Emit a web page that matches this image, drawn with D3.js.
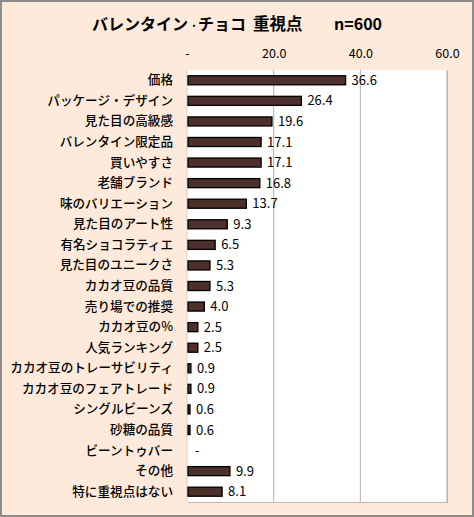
<!DOCTYPE html>
<html>
<head>
<meta charset="utf-8">
<title>バレンタイン・チョコ 重視点</title>
<script src="https://d3js.org/d3.v7.min.js"></script>
<style>
  body { margin: 0; background: #fff; }
  text { font-family: "Noto Sans CJK JP", "Noto Sans", sans-serif; fill: #000; }
</style>
</head>
<body>
<svg id="mainsvg" width="474" height="517"></svg>
<script>
// ---------- data ----------
const categories = [
  "価格", "パッケージ・デザイン", "見た目の高級感", "バレンタイン限定品", "買いやすさ",
  "老舗ブランド", "味のバリエーション", "見た目のアート性", "有名ショコラティエ", "見た目のユニークさ",
  "カカオ豆の品質", "売り場での推奨", "カカオ豆の%", "人気ランキング", "カカオ豆のトレーサビリティ",
  "カカオ豆のフェアトレード", "シングルビーンズ", "砂糖の品質", "ビーントゥバー", "その他", "特に重視点はない"
];
const values = [36.6, 26.4, 19.6, 17.1, 17.1, 16.8, 13.7, 9.3, 6.5, 5.3, 5.3, 4.0, 2.5, 2.5, 0.9, 0.9, 0.6, 0.6, 0, 9.9, 8.1];
const xTicks = [0, 20, 40, 60];
const titleParts = ["バレンタイン", "・", "チョコ", "重視点", "n=600"];

// ---------- canvas ----------
const svg = d3.select("#mainsvg");
const width = +svg.attr("width");
const height = +svg.attr("height");
const plot = {left: 187, right: 447, top: 70, bottom: 502};

// chart background + border
svg.append("rect")
   .attr("x", 1).attr("y", 1)
   .attr("width", width - 2).attr("height", height - 2)
   .attr("fill", "#fdeada")
   .attr("stroke", "#8c8c8c")
   .attr("stroke-width", 2);

// title (pieces placed like the original's spacing; the dot is narrower there)
const titleX = [92, 194, 198, 253, 334];
const titleSize = [16, 9, 16, 16.5, 16];
svg.append("g").selectAll("text").data(titleParts).join("text")
   .attr("x", (d, i) => titleX[i])
   .attr("y", (d, i) => i === 1 ? 28.5 : 30)
   .attr("text-anchor", (d, i) => i === 1 ? "middle" : "start")
   .attr("font-size", (d, i) => titleSize[i])
   .attr("font-weight", "bold")
   .attr("font-family", (d, i) => i === 4 ? "'Open Sans', sans-serif" : null)
   .text(d => d);

// scales
const xScale = d3.scaleLinear().domain([0, 60]).range([plot.left, plot.right]);
const yScale = d3.scaleBand().domain(categories)
   .range([plot.top, plot.bottom])
   .paddingInner(0.56).paddingOuter(0.28);

// plot area with light shadow
svg.append("rect")
   .attr("x", plot.left + 1).attr("y", plot.top + 1)
   .attr("width", plot.right - plot.left).attr("height", plot.bottom - plot.top)
   .attr("fill", "#bfb6ae");
svg.append("rect")
   .attr("x", plot.left).attr("y", plot.top)
   .attr("width", plot.right - plot.left).attr("height", plot.bottom - plot.top)
   .attr("fill", "#fff");

// gridlines
svg.append("g").selectAll("line").data(xTicks.slice(1)).join("line")
   .attr("x1", d => xScale(d)).attr("x2", d => xScale(d))
   .attr("y1", plot.top).attr("y2", plot.bottom)
   .attr("stroke", "#b0b0b0").attr("stroke-width", 1);
svg.append("line")
   .attr("x1", plot.left).attr("x2", plot.left)
   .attr("y1", plot.top).attr("y2", plot.bottom)
   .attr("stroke", "#d0d0d0");

// top axis
const xAxis = d3.axisTop(xScale)
   .tickValues(xTicks)
   .tickSize(0)
   .tickPadding(0)
   .tickFormat(d => d === 0 ? "-" : d.toFixed(1));
const xAxisGroup = svg.append("g")
   .attr("transform", `translate(0, 58)`)
   .call(xAxis);
xAxisGroup.select(".domain").remove();
xAxisGroup.selectAll("text")
   .attr("dy", 0)
   .attr("font-size", 12.5)
   .attr("font-family", "'Open Sans', sans-serif")
   .attr("fill", "#404040");

// category labels
const yAxis = d3.axisLeft(yScale).tickSize(0).tickPadding(14);
const yAxisGroup = svg.append("g")
   .attr("transform", `translate(${plot.left}, 0)`)
   .call(yAxis);
yAxisGroup.select(".domain").remove();
yAxisGroup.selectAll("text")
   .attr("font-size", 12.6)
   .attr("font-weight", 500)
   .attr("font-family", "'Noto Sans CJK JP', sans-serif")
   .attr("fill", "#000");

// bars
const rows = categories.map((c, i) => ({cat: c, v: values[i]}));
svg.append("g").selectAll("rect").data(rows.filter(d => d.v > 0)).join("rect")
   .attr("x", xScale(0) + 1)
   .attr("y", d => yScale(d.cat))
   .attr("width", d => Math.max(xScale(d.v) - xScale(0) - 1, 2))
   .attr("height", yScale.bandwidth())
   .attr("fill", "#4d2f2b")
   .attr("stroke", "#000")
   .attr("stroke-width", 1.3);

// value labels
svg.append("g").selectAll("text").data(rows).join("text")
   .attr("x", d => d.v > 0 ? Math.max(xScale(d.v), xScale(0) + 3) + 6 : xScale(0) + 8)
   .attr("y", d => yScale(d.cat) + yScale.bandwidth() / 2)
   .attr("dy", "0.35em")
   .attr("font-size", 13)
   .attr("font-family", "'Open Sans', sans-serif")
   .text(d => d.v > 0 ? d.v.toFixed(1) : "-");
</script>
</body>
</html>
